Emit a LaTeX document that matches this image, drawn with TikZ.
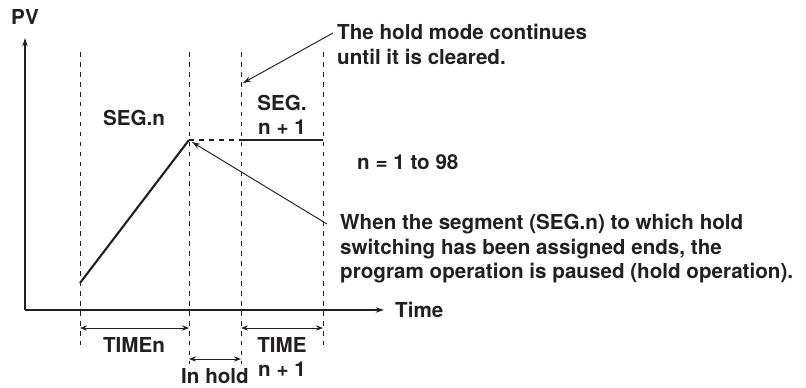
\documentclass[tikz,border=0pt]{standalone}
\usepackage{fontspec}
\setmainfont{TeX Gyre Heros}
\usepackage{xcolor}
\usetikzlibrary{arrows.meta}
\definecolor{inkGray}{RGB}{35,31,32}

\tikzset{
  lbl/.style={font=\fontsize{17.6}{21}\selectfont\bfseries, text=inkGray, inner sep=0pt},
  guide/.style={inkGray, line width=0.8pt, dash pattern=on 4pt off 4.5pt},
  dimarrow/.style={inkGray, line width=0.8pt, {Stealth[length=6pt,width=4.5pt]}-{Stealth[length=6pt,width=4.5pt]}},
  callout/.style={inkGray, line width=0.8pt, -{Stealth[length=7pt,width=4.5pt]}}
}

\begin{document}
\begin{tikzpicture}[x=0.03cm, y=-0.03cm]

\useasboundingbox (0,0) rectangle (806,387);

%
\coordinate (origin) at (25,310);
\coordinate (pvtip) at (25,38);
\coordinate (timetip) at (384,310);
\draw[inkGray, line width=0.9pt, -{Stealth[length=7pt,width=4.5pt]}] (origin) -- (pvtip);
\draw[inkGray, line width=0.9pt, -{Stealth[length=7pt,width=4.5pt]}] (origin) -- (timetip);
\node[lbl] (pv) at (25,17) {PV};
\node[lbl, anchor=west] (time) at (395,310) {Time};

%
\draw[guide] (80,52) -- (80,350);
\draw[guide] (189,52) -- (189,364);
\draw[guide] (241,52) -- (241,364);
\draw[guide] (323,52) -- (323,350);

%
\coordinate (rampstart) at (80,283);
\coordinate (peak) at (189,140);
\coordinate (resume) at (241,140);
\coordinate (segend) at (323,140);
\draw[inkGray, line width=1.8pt] (rampstart) -- (peak);
\draw[guide, line width=1pt] (peak) -- (resume);
\draw[inkGray, line width=1.5pt] (resume) -- (segend);

%
\node[lbl] (segn) at (134,118) {SEG.n};
\node[lbl, align=center] (segnext) at (282,115) {SEG.\\n + 1};
\node[lbl, anchor=west] (range) at (357,162) {n = 1 to 98};

%
\node[lbl, anchor=north west, align=left] (holdnote) at (337,24)
{The hold mode continues\\until it is cleared.};
\node[lbl, anchor=north west, align=left] (pausenote) at (340,214)
{When the segment (SEG.n) to which hold\\switching has been assigned ends, the\\program operation is paused (hold operation).};
\coordinate (holdfrom) at (333,33);
\coordinate (holdto) at (243,83);
\coordinate (pausefrom) at (327,224);
\coordinate (pauseto) at (192,142);
\draw[callout] (holdfrom) -- (holdto);
\draw[callout] (pausefrom) -- (pauseto);

%
\draw[dimarrow] (80,328) -- (189,328);
\draw[dimarrow] (189,359) -- (241,359);
\draw[dimarrow] (241,328) -- (323,328);
\node[lbl] (timen) at (134,345) {TIMEn};
\node[lbl, align=center] (timenext) at (282,357) {TIME\\n + 1};
\node[lbl] (inhold) at (215,376.5) {In hold};

\end{tikzpicture}
\end{document}
